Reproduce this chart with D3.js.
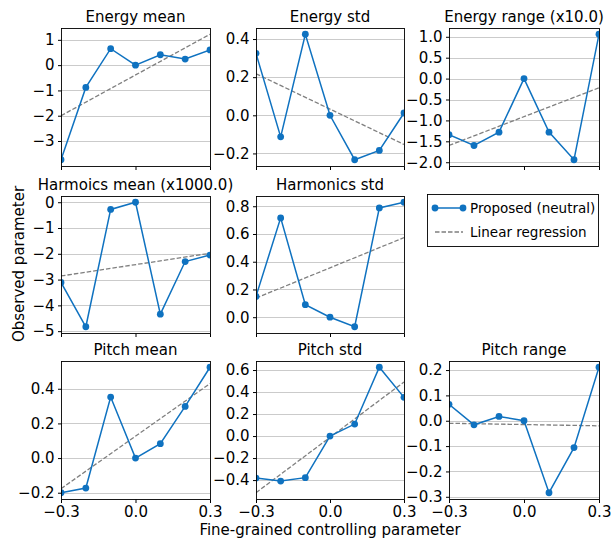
<!DOCTYPE html>
<html>
<head>
<meta charset="utf-8">
<script src="https://cdn.jsdelivr.net/npm/d3@7"></script>
<style>
  body { margin: 0; background: #fff; }
  svg { display: block; font-family: "DejaVu Sans", sans-serif; }
</style>
</head>
<body>
<div id="chart"></div>
<script>
// controlling parameter values (x axis)
const xValues = [-0.3, -0.2, -0.1, 0.0, 0.1, 0.2, 0.3];
const xTicks = [-0.3, 0.0, 0.3];

const energyMean = [-3.74, -0.88, 0.65, 0.0, 0.41, 0.24, 0.6];
const energyStd = [0.325, -0.113, 0.425, 0.0, -0.233, -0.184, 0.012];
const energyRange = [-1.34, -1.6, -1.28, 0.0, -1.28, -1.94, 1.06];
const harmonicsMean = [-3.11, -4.83, -0.28, 0.0, -4.34, -2.3, -2.05];
const harmonicsStd = [0.15, 0.716, 0.09, 0.0, -0.069, 0.788, 0.829];
const pitchMean = [-0.2, -0.173, 0.352, 0.0, 0.083, 0.298, 0.524];
const pitchStd = [-0.382, -0.409, -0.378, 0.0, 0.109, 0.625, 0.352];
const pitchRange = [0.065, -0.016, 0.017, 0.0, -0.284, -0.106, 0.211];

// linear regression line, value at x = -0.3 and x = 0.3
const regEnergyMean = [-2.0, 1.22];
const regEnergyStd = [0.218, -0.153];
const regEnergyRange = [-1.6, -0.22];
const regHarmonicsMean = [-2.86, -1.98];
const regHarmonicsStd = [0.138, 0.574];
const regPitchMean = [-0.177, 0.43];
const regPitchStd = [-0.515, 0.491];
const regPitchRange = [-0.010, -0.020];

// y ticks per panel
const ticksEnergyMean = [-3, -2, -1, 0, 1];
const ticksEnergyStd = [-0.2, 0.0, 0.2, 0.4];
const ticksEnergyRange = [-2.0, -1.5, -1.0, -0.5, 0.0, 0.5, 1.0];
const ticksHarmonicsMean = [-5, -4, -3, -2, -1, 0];
const ticksHarmonicsStd = [0.0, 0.2, 0.4, 0.6, 0.8];
const ticksPitchMean = [-0.2, 0.0, 0.2, 0.4];
const ticksPitchStd = [-0.4, -0.2, 0.0, 0.2, 0.4, 0.6];
const ticksPitchRange = [-0.3, -0.2, -0.1, 0.0, 0.1, 0.2];

const legendLabels = ["Proposed (neutral)", "Linear regression"];
const xLabel = "Fine-grained controlling parameter";
const yLabel = "Observed parameter";

const panels = [
  { title: "Energy mean", values: energyMean, reg: regEnergyMean, ticks: ticksEnergyMean, fmt: "d", col: 0, row: 0 },
  { title: "Energy std", values: energyStd, reg: regEnergyStd, ticks: ticksEnergyStd, fmt: ".1f", col: 1, row: 0 },
  { title: "Energy range (x10.0)", values: energyRange, reg: regEnergyRange, ticks: ticksEnergyRange, fmt: ".1f", col: 2, row: 0 },
  { title: "Harmoics mean (x1000.0)", values: harmonicsMean, reg: regHarmonicsMean, ticks: ticksHarmonicsMean, fmt: "d", col: 0, row: 1 },
  { title: "Harmonics std", values: harmonicsStd, reg: regHarmonicsStd, ticks: ticksHarmonicsStd, fmt: ".1f", col: 1, row: 1 },
  { title: "Pitch mean", values: pitchMean, reg: regPitchMean, ticks: ticksPitchMean, fmt: ".1f", col: 0, row: 2 },
  { title: "Pitch std", values: pitchStd, reg: regPitchStd, ticks: ticksPitchStd, fmt: ".1f", col: 1, row: 2 },
  { title: "Pitch range", values: pitchRange, reg: regPitchRange, ticks: ticksPitchRange, fmt: ".1f", col: 2, row: 2 }
];

const width = 614;
const height = 539;
const lineColor = "#0f72c0";
const regColor = "#7f7f7f";
const gridColor = "#cbcbcb";
const fontSize = 15;

// axes boxes in pixels
const cols = [[61, 210], [256, 404], [449, 599]];
const rows = [[28, 166], [196, 333], [361, 499]];

const svg = d3.select("#chart")
  .append("svg")
  .attr("width", width)
  .attr("height", height);

function minusFormat(spec) {
  const f = d3.format(spec);
  return function(d) {
    return f(d).replace("-", "\u2212");
  };
}

panels.forEach(function(p, i) {
  const x0 = cols[p.col][0], x1 = cols[p.col][1];
  const y0 = rows[p.row][0], y1 = rows[p.row][1];

  // matplotlib-like 5% margin around data + regression
  const all = p.values.concat(p.reg);
  const lo = d3.min(all), hi = d3.max(all);
  const pad = (hi - lo) * 0.05;

  const x = d3.scaleLinear().domain([-0.3, 0.3]).range([x0, x1]);
  const y = d3.scaleLinear().domain([lo - pad, hi + pad]).range([y1, y0]);

  const g = svg.append("g").attr("class", "panel");

  g.append("clipPath")
    .attr("id", "clip" + i)
    .append("rect")
    .attr("x", x0)
    .attr("y", y0)
    .attr("width", x1 - x0)
    .attr("height", y1 - y0);

  // horizontal grid
  g.selectAll(".grid")
    .data(p.ticks)
    .enter()
    .append("line")
    .attr("class", "grid")
    .attr("x1", x0)
    .attr("x2", x1)
    .attr("y1", function(d) { return Math.round(y(d)) + 0.5; })
    .attr("y2", function(d) { return Math.round(y(d)) + 0.5; })
    .attr("stroke", gridColor)
    .attr("stroke-width", 1);

  const plot = g.append("g").attr("clip-path", "url(#clip" + i + ")");

  plot.append("line")
    .attr("x1", x(-0.3))
    .attr("x2", x(0.3))
    .attr("y1", y(p.reg[0]))
    .attr("y2", y(p.reg[1]))
    .attr("stroke", regColor)
    .attr("stroke-width", 1.3)
    .attr("stroke-dasharray", "4.5,2");

  const line = d3.line()
    .x(function(d, j) { return x(xValues[j]); })
    .y(function(d) { return y(d); });

  plot.append("path")
    .datum(p.values)
    .attr("d", line)
    .attr("fill", "none")
    .attr("stroke", lineColor)
    .attr("stroke-width", 1.5);

  plot.selectAll("circle")
    .data(p.values)
    .enter()
    .append("circle")
    .attr("cx", function(d, j) { return x(xValues[j]); })
    .attr("cy", function(d) { return y(d); })
    .attr("r", 3.4)
    .attr("fill", lineColor);

  // y axis
  const yAxis = d3.axisLeft(y)
    .tickValues(p.ticks)
    .tickFormat(minusFormat(p.fmt))
    .tickSizeInner(3.5)
    .tickSizeOuter(0)
    .tickPadding(3.5);
  const ya = g.append("g")
    .attr("transform", "translate(" + (x0 + 0.5) + ",0)")
    .call(yAxis);
  ya.select(".domain").remove();
  ya.selectAll("text")
    .attr("font-size", fontSize)
    .attr("font-family", "DejaVu Sans")
    .attr("fill", "#000");

  // x axis
  const xAxis = d3.axisBottom(x)
    .tickValues(xTicks)
    .tickFormat(p.row === 2 ? minusFormat(".1f") : "")
    .tickSizeInner(3.5)
    .tickSizeOuter(0)
    .tickPadding(3.5);
  const xa = g.append("g")
    .attr("transform", "translate(0," + (y1 + 0.5) + ")")
    .call(xAxis);
  xa.select(".domain").remove();
  xa.selectAll("text")
    .attr("font-size", fontSize)
    .attr("font-family", "DejaVu Sans")
    .attr("fill", "#000");

  // spines
  g.append("rect")
    .attr("x", x0 + 0.5)
    .attr("y", y0 + 0.5)
    .attr("width", x1 - x0)
    .attr("height", y1 - y0)
    .attr("fill", "none")
    .attr("stroke", "#000")
    .attr("stroke-width", 0.9);

  g.append("text")
    .attr("x", (x0 + x1) / 2)
    .attr("y", y0 - 6)
    .attr("text-anchor", "middle")
    .attr("font-size", fontSize)
    .text(p.title);
});

// legend in the empty slot
const legend = svg.append("g").attr("class", "legend");
legend.append("rect")
  .attr("x", 427.5)
  .attr("y", 194.5)
  .attr("width", 171)
  .attr("height", 52)
  .attr("fill", "#fff")
  .attr("stroke", "#000")
  .attr("stroke-width", 0.9);

legend.append("line")
  .attr("x1", 435).attr("x2", 463)
  .attr("y1", 208).attr("y2", 208)
  .attr("stroke", lineColor)
  .attr("stroke-width", 1.5);
legend.selectAll(".lmark")
  .data([435, 463])
  .enter()
  .append("circle")
  .attr("cx", function(d) { return d; })
  .attr("cy", 208)
  .attr("r", 3.4)
  .attr("fill", lineColor);
legend.append("line")
  .attr("x1", 435).attr("x2", 463)
  .attr("y1", 232).attr("y2", 232)
  .attr("stroke", regColor)
  .attr("stroke-width", 1.3)
  .attr("stroke-dasharray", "4.5,2");

legend.selectAll(".ltext")
  .data(legendLabels)
  .enter()
  .append("text")
  .attr("x", 470)
  .attr("y", function(d, i) { return 213 + i * 24; })
  .attr("font-size", 13.5)
  .text(function(d) { return d; });

svg.append("text")
  .attr("x", 330)
  .attr("y", 535)
  .attr("text-anchor", "middle")
  .attr("font-size", fontSize)
  .text(xLabel);

svg.append("text")
  .attr("transform", "translate(24,264) rotate(-90)")
  .attr("text-anchor", "middle")
  .attr("font-size", fontSize)
  .text(yLabel);
</script>
</body>
</html>
